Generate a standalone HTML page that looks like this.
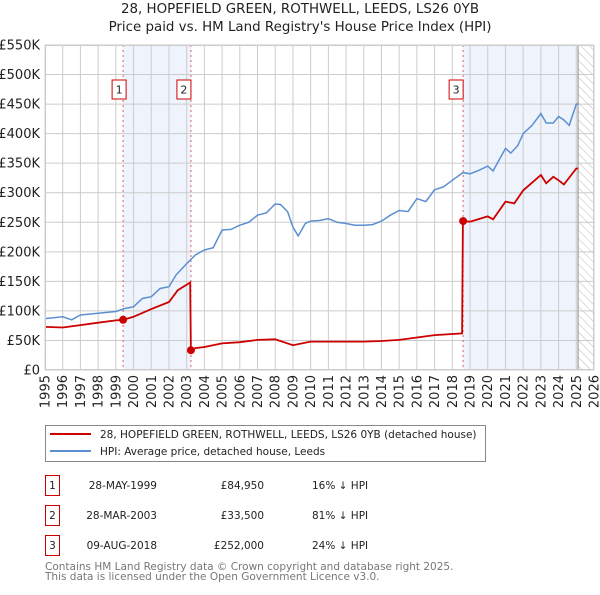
<!DOCTYPE html>
<html><head><meta charset="utf-8"><style>
body{margin:0;background:#fff;font-family:"Liberation Sans","DejaVu Sans",sans-serif;}
svg text{font-family:"DejaVu Sans","Liberation Sans",sans-serif;}
</style></head><body>
<svg id="c" width="600" height="590" xmlns="http://www.w3.org/2000/svg">
<defs><pattern id="hatch" width="6" height="6" patternUnits="userSpaceOnUse" patternTransform="rotate(-45)"><line x1="0" y1="0" x2="0" y2="6" stroke="#bbb" stroke-width="1"/></pattern></defs>
<text x="300" y="13" text-anchor="middle" font-size="13.4" fill="#222">28, HOPEFIELD GREEN, ROTHWELL, LEEDS, LS26 0YB</text>
<text x="300" y="31" text-anchor="middle" font-size="13.4" fill="#222">Price paid vs. HM Land Registry's House Price Index (HPI)</text>
<g id="plot"></g>
<g>
<rect x="45.5" y="425.5" width="440" height="36" fill="#fff" stroke="#888"/>
<line x1="50" y1="434" x2="91" y2="434" stroke="#cc0000" stroke-width="2"/>
<text x="100" y="438" font-size="10.5" fill="#222">28, HOPEFIELD GREEN, ROTHWELL, LEEDS, LS26 0YB (detached house)</text>
<line x1="50" y1="451" x2="91" y2="451" stroke="#5b8fd0" stroke-width="2"/>
<text x="100" y="455" font-size="10.5" fill="#222">HPI: Average price, detached house, Leeds</text>
</g>
<g id="table" font-size="10.5" fill="#222"></g>
<text x="45" y="570" font-size="10.5" fill="#777">Contains HM Land Registry data © Crown copyright and database right 2025.</text>
<text x="45" y="580" font-size="10.5" fill="#777">This data is licensed under the Open Government Licence v3.0.</text>
</svg>
<script>
const hpiYears=[1995,1996,1996.5,1997,1998,1999,1999.5,2000,2000.5,2001,2001.5,2002,2002.4,2003,2003.5,2004,2004.5,2005,2005.5,2006,2006.5,2007,2007.5,2008,2008.3,2008.7,2009,2009.3,2009.7,2010,2010.5,2011,2011.5,2012,2012.5,2013,2013.5,2014,2014.5,2015,2015.5,2016,2016.5,2017,2017.5,2018,2018.6,2019,2019.5,2020,2020.3,2021,2021.3,2021.7,2022,2022.5,2023,2023.3,2023.7,2024,2024.3,2024.6,2025,2025.1];
const hpiValues=[87,90,85,93,96,99,104,107,121,124,138,141,161,180,195,203,207,237,238,245,250,262,266,281,280,268,242,227,248,252,253,256,250,248,245,245,246,252,262,270,268,290,285,305,310,321,334,332,338,345,337,375,367,380,400,414,434,418,418,429,423,414,450,450];
const paidYears=[1995,1996,1997,1998,1999,1999.41,2000,2001,2002,2002.5,2003.2,2003.24,2003.5,2004,2005,2006,2007,2008,2009,2010,2011,2012,2013,2014,2015,2016,2017,2018.55,2018.6,2019,2020,2020.3,2021,2021.5,2022,2023,2023.3,2023.7,2024,2024.3,2025,2025.1];
const paidValues=[73,72,76,80,84,84.95,90,103,115,135,148,33.5,37,39,45,47,51,52,42,48,48,48,48,49,51,55,59,62,252,251,260,255,285,282,304,330,316,327,321,314,341,341];
const saleLabels=["1","2","3"];
const saleYears=[1999.41,2003.24,2018.61];
const saleValues=[84.95,33.5,252];
const saleDates=["28-MAY-1999","28-MAR-2003","09-AUG-2018"];
const salePrices=["£84,950","£33,500","£252,000"];
const saleDiffs=["16% ↓ HPI","81% ↓ HPI","24% ↓ HPI"];
const yTicks=[0,50,100,150,200,250,300,350,400,450,500,550];
const yTickLabels=["£0","£50K","£100K","£150K","£200K","£250K","£300K","£350K","£400K","£450K","£500K","£550K"];
const xTicks=[1995,1996,1997,1998,1999,2000,2001,2002,2003,2004,2005,2006,2007,2008,2009,2010,2011,2012,2013,2014,2015,2016,2017,2018,2019,2020,2021,2022,2023,2024,2025,2026];

const NS="http://www.w3.org/2000/svg";
const X0=45,X1=594,Y0=370,Y1=45;
const xs=y=>X0+(y-1995)/(2026-1995)*(X1-X0);
const ys=v=>Y0-v/550*(Y0-Y1);
const plot=document.getElementById('plot');
function mk(tag,attrs,parent){const e=document.createElementNS(NS,tag);for(const k in attrs)e.setAttribute(k,attrs[k]);(parent||plot).appendChild(e);return e;}
let e;
e=mk('rect',{x:X0,y:Y1,width:X1-X0,height:Y0-Y1,fill:'#fff'});


e=mk('rect',{x:xs(saleYears[0]),y:Y1,width:xs(saleYears[1])-xs(saleYears[0]),height:Y0-Y1,fill:'#eef3fc'});


e=mk('rect',{x:xs(saleYears[2]),y:Y1,width:xs(2025)-xs(saleYears[2]),height:Y0-Y1,fill:'#eef3fc'});


e=mk('rect',{x:xs(2025.1),y:Y1,width:X1-xs(2025.1),height:Y0-Y1,fill:'url(#hatch)'});


yTicks.forEach((t,i)=>{
  e=mk('line',{x1:X0,x2:X1,y1:ys(t),y2:ys(t),stroke:'#ccc','stroke-width':1});
  
  
  e=mk('text',{x:40,y:ys(t)+4.5,'text-anchor':'end','font-size':13,fill:'#222'});
  e.textContent=yTickLabels[i];
  
  
});
xTicks.forEach(t=>{
  e=mk('line',{x1:xs(t),x2:xs(t),y1:Y1,y2:Y0,stroke:'#ccc','stroke-width':1});
  
  
  e=mk('text',{x:0,y:0,'text-anchor':'end','font-size':13,fill:'#222',transform:`translate(${xs(t)+4.5},375) rotate(-90)`});
  e.textContent=t;
  
  
});
e=mk('line',{x1:xs(2025.1),x2:xs(2025.1),y1:Y1,y2:Y0,stroke:'#999','stroke-width':1.2});


saleYears.forEach((y,i)=>{
  e=mk('line',{x1:xs(y),x2:xs(y),y1:Y1,y2:Y0,stroke:'#e06060','stroke-width':1,'stroke-dasharray':'2,3'});
  
  
});
const pts=(xa,va)=>xa.map((x,i)=>xs(x).toFixed(1)+','+ys(va[i]).toFixed(1)).join(' ');
e=mk('polyline',{points:pts(hpiYears,hpiValues),fill:'none',stroke:'#5b8fd0','stroke-width':1.5});


e=mk('polyline',{points:pts(paidYears,paidValues),fill:'none',stroke:'#cc0000','stroke-width':1.8});


saleYears.forEach((y,i)=>{
  e=mk('circle',{cx:xs(y),cy:ys(saleValues[i]),r:4,fill:'#cc0000'});
  
  
  e=mk('rect',{x:xs(y)-10-(i==0?-3:0)-4,y:80,width:14,height:19,fill:'#fff',stroke:'#cc0000'});
  
  
  e=mk('text',{x:xs(y)-10-(i==0?-3:0)+3,y:93.5,'text-anchor':'middle','font-size':11,fill:'#222'});
  e.textContent=saleLabels[i];
  
  
});
e=mk('rect',{x:X0+0.5,y:Y1+0.5,width:X1-X0-1,height:Y0-Y1-1,fill:'none',stroke:'#ccc'});


const tbl=document.getElementById('table');
saleLabels.forEach((l,i)=>{
  const y=475+i*30;
  e=mk('rect',{x:45.5,y:y+0.5,width:14,height:20,fill:'#fff',stroke:'#cc0000'},tbl);
  
  
  e=mk('text',{x:52.5,y:y+14,'text-anchor':'middle'},tbl);e.textContent=l;
  
  
  e=mk('text',{x:157,y:y+14,'text-anchor':'end'},tbl);e.textContent=saleDates[i];
  
  
  e=mk('text',{x:264,y:y+14,'text-anchor':'end'},tbl);e.textContent=salePrices[i];
  
  
  e=mk('text',{x:312,y:y+14},tbl);e.textContent=saleDiffs[i];
  
  
});
</script>
</body></html>
